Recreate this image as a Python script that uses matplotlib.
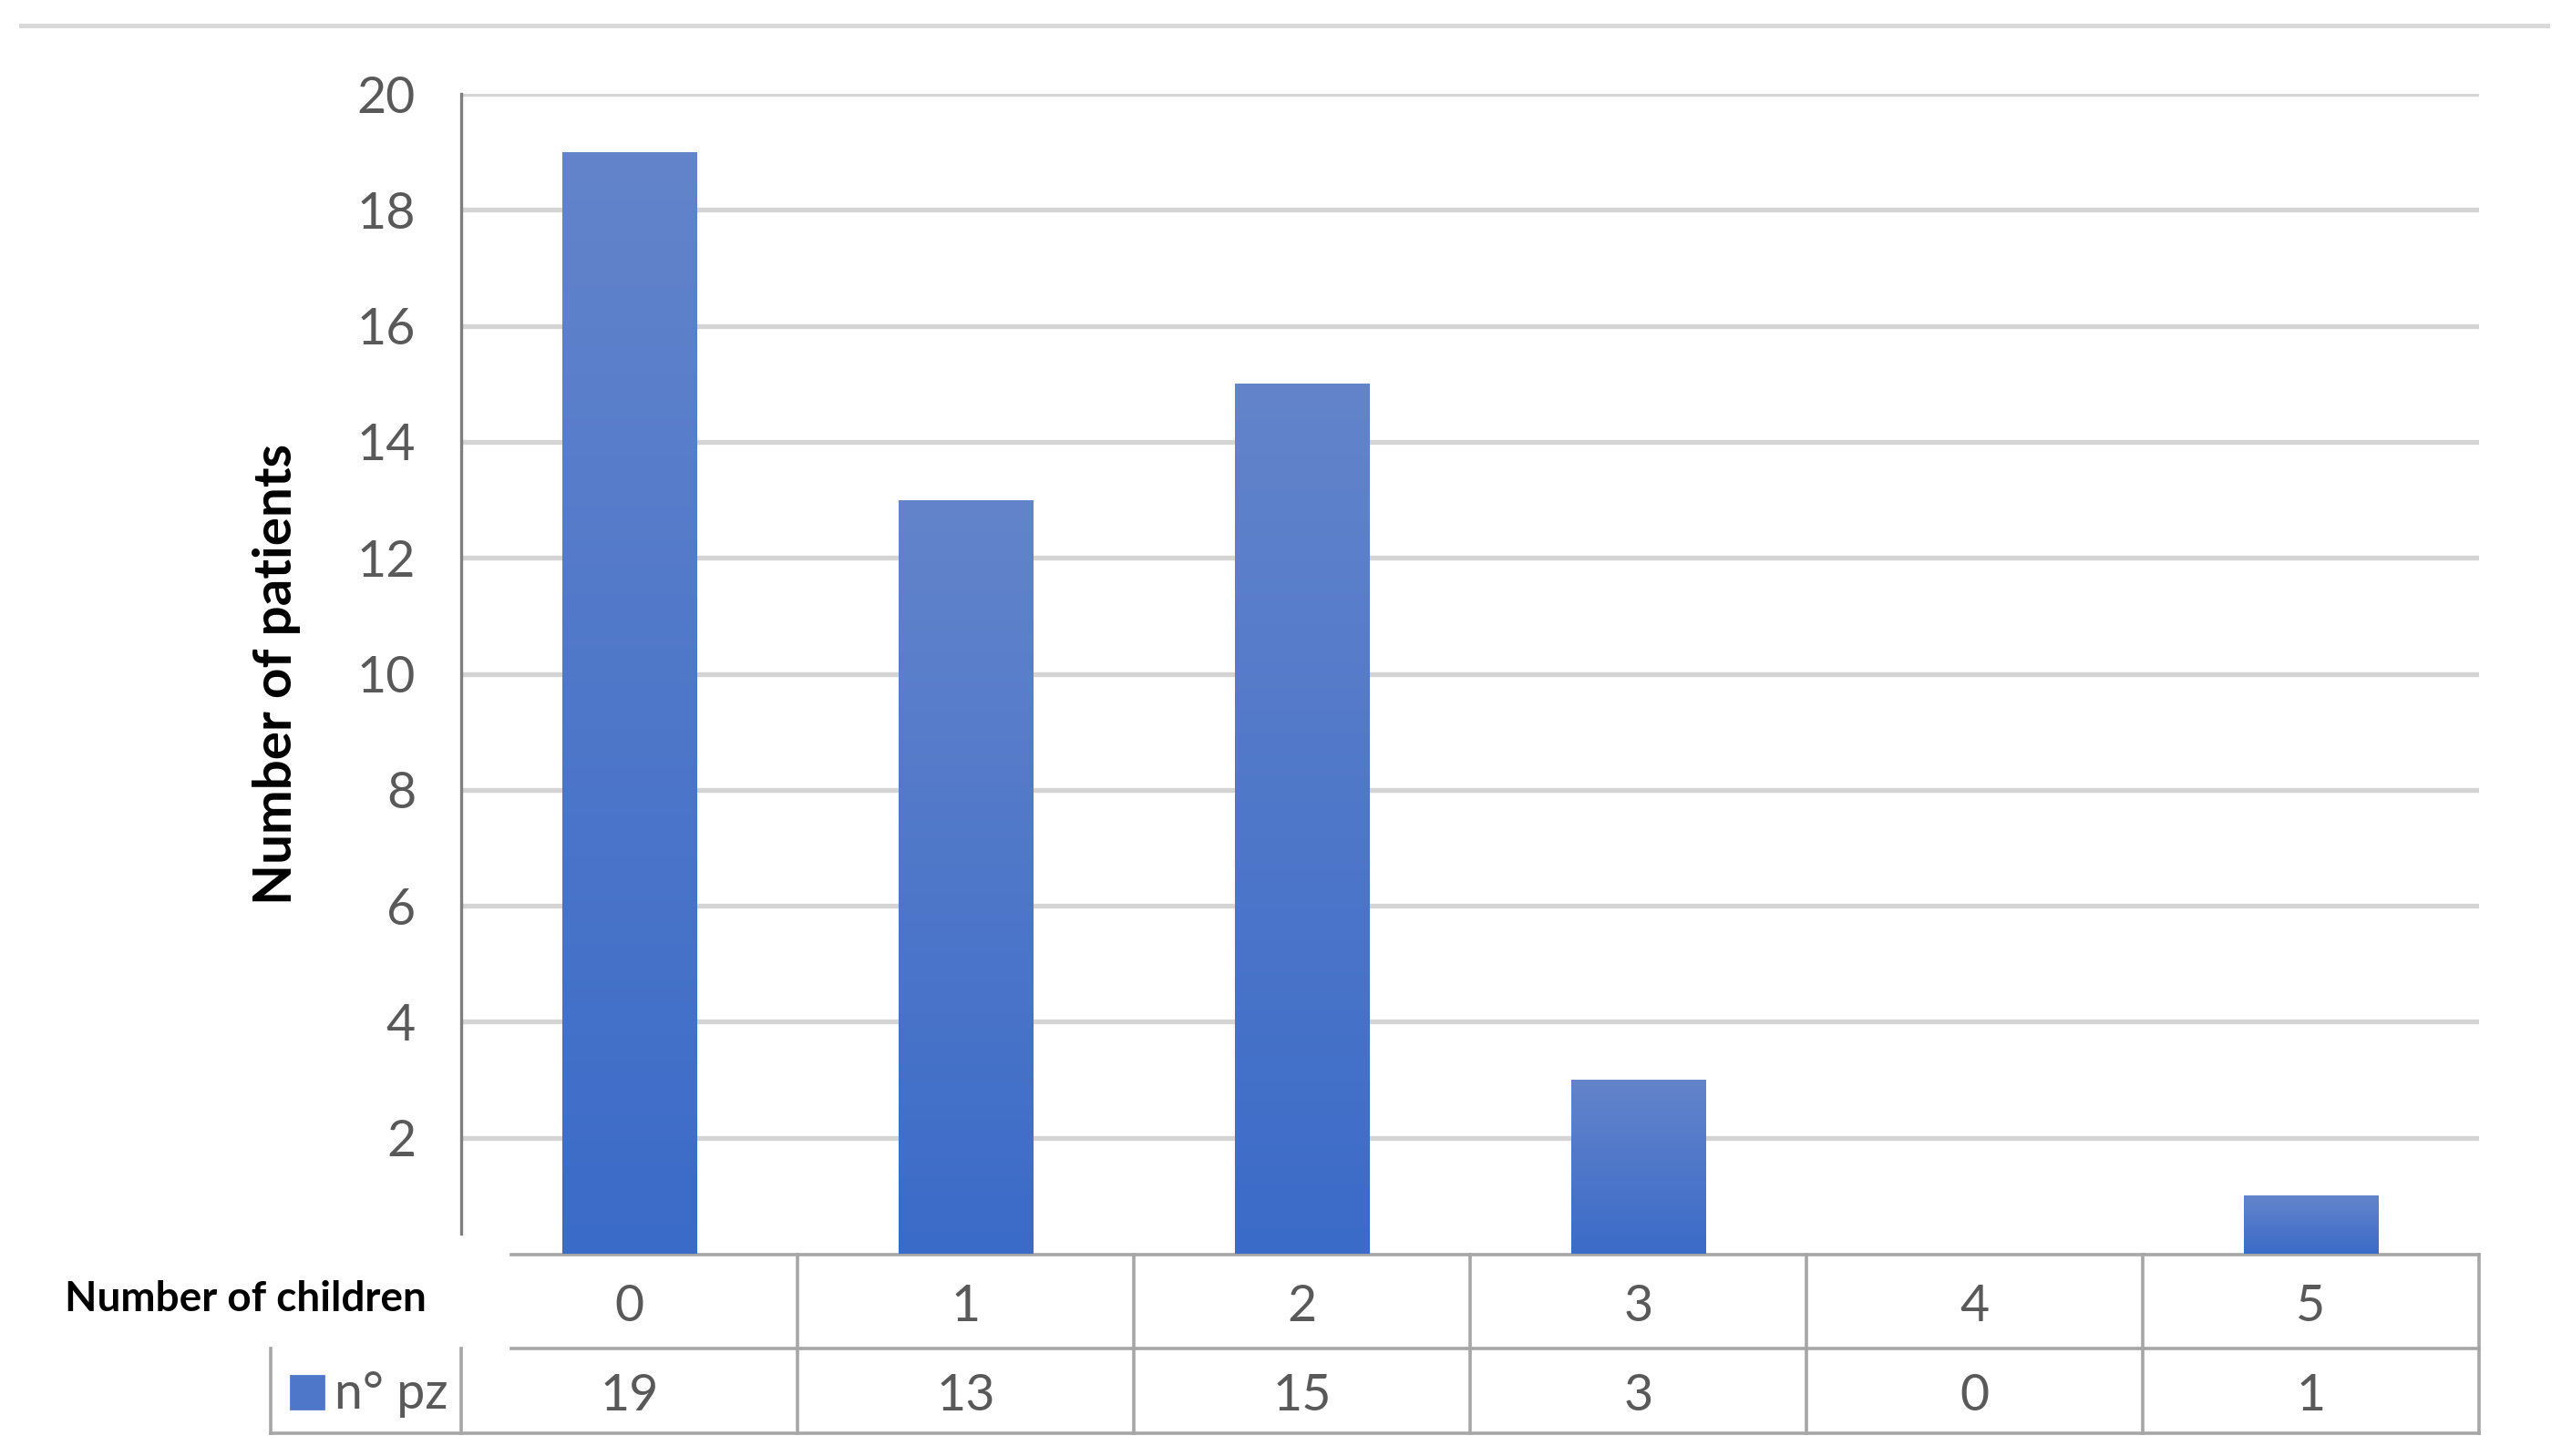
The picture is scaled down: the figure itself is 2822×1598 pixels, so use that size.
import numpy as np
from matplotlib import pyplot as plt
from matplotlib.transforms import blended_transform_factory
from matplotlib.patches import Rectangle

plt.rcParams["font.family"] = ["Lato", "DejaVu Sans"]

# dati
categorie = ["0", "1", "2", "3", "4", "5"]
pazienti = [19, 13, 15, 3, 0, 1]
serie = "n° pz"
yticks = [2, 4, 6, 8, 10, 12, 14, 16, 18, 20]

W, H, DPI = 2822, 1598, 200
grigio_txt = "#595959"
grigio_lin = "#A6A6A6"


def fy(px):
    # pixel dall'alto -> frazione figura
    return 1 - px / H


fig = plt.figure(figsize=(W / DPI, H / DPI), dpi=DPI)
ax = fig.add_axes([506 / W, fy(1376), (2720 - 506) / W, (1376 - 103) / H])

x = np.arange(len(categorie))
barre = ax.bar(x, pazienti, width=0.4, color="#4F77C9", zorder=2)

# sfumatura nelle barre
grad = np.linspace(0, 1, 256).reshape(-1, 1)
cmap = plt.matplotlib.colors.LinearSegmentedColormap.from_list("g", ["#3B6BC8", "#6384CB"])
for b in barre:
    if b.get_height() <= 0:
        continue
    im = ax.imshow(grad, cmap=cmap, aspect="auto", origin="lower",
                   extent=[b.get_x(), b.get_x() + b.get_width(), 0, b.get_height()],
                   zorder=3)
    im.set_clip_path(b)

ax.set_xlim(-0.5, len(categorie) - 0.5)
ax.set_ylim(0, 20)
ax.set_yticks(yticks)
ax.set_yticklabels([str(v) for v in yticks], fontsize=20, color=grigio_txt)
ax.tick_params(axis="y", length=0, pad=18)
ax.set_xticks([])
ax.grid(axis="y", color="#D4D4D4", linewidth=1.9, zorder=0)
ax.set_axisbelow(True)
for s in ["top", "right", "bottom"]:
    ax.spines[s].set_visible(False)
ax.spines["left"].set_color("#7F7F7F")
ax.spines["left"].set_linewidth(1.2)
ax.spines["left"].set_bounds(0.35, 20)

ax.set_ylabel("Number of patients", fontsize=21, fontweight="bold", labelpad=22)

# tabella dati sotto il grafico
tr = blended_transform_factory(ax.transData, fig.transFigure)
y_top, y_mid, y_bot = fy(1377), fy(1480), fy(1573)
x_start = -0.5 + 55 / 369
x_leg = -0.5 - 209 / 369
lw = 1.3
kw = dict(color=grigio_lin, linewidth=lw, transform=tr, clip_on=False)
ax.plot([x_start, 5.5], [y_top, y_top], **kw)
ax.plot([x_start, 5.5], [y_mid, y_mid], **kw)
ax.plot([x_leg, 5.5], [y_bot, y_bot], **kw)
for xv in np.arange(0.5, 6, 1):
    ax.plot([xv, xv], [y_top, y_bot], **kw)
ax.plot([-0.5, -0.5], [y_mid, y_bot], **kw)
ax.plot([x_leg, x_leg], [y_mid, y_bot], **kw)

for i, c in enumerate(categorie):
    ax.text(i, fy(1434), c, transform=tr, ha="center", va="center",
            fontsize=20, color=grigio_txt)
    ax.text(i, fy(1532), str(pazienti[i]), transform=tr, ha="center", va="center",
            fontsize=20, color=grigio_txt)

fig.text(468 / W, fy(1426), "Number of children", ha="right", va="center",
         fontsize=16.5, fontweight="bold", color="black")

# legenda nella tabella
fig.patches.append(Rectangle((319 / W, fy(1546)), 36 / W, 36 / H,
                             transform=fig.transFigure, color="#4F77C9"))
fig.text(367 / W, fy(1530), serie, ha="left", va="center", fontsize=20, color=grigio_txt)

# linea grigia in alto
fig.add_artist(plt.Line2D([23 / W, 2795 / W], [fy(28), fy(28)], color="#D9D9D9",
                          linewidth=1.8, transform=fig.transFigure))

fig.savefig("out.png", dpi=DPI)
